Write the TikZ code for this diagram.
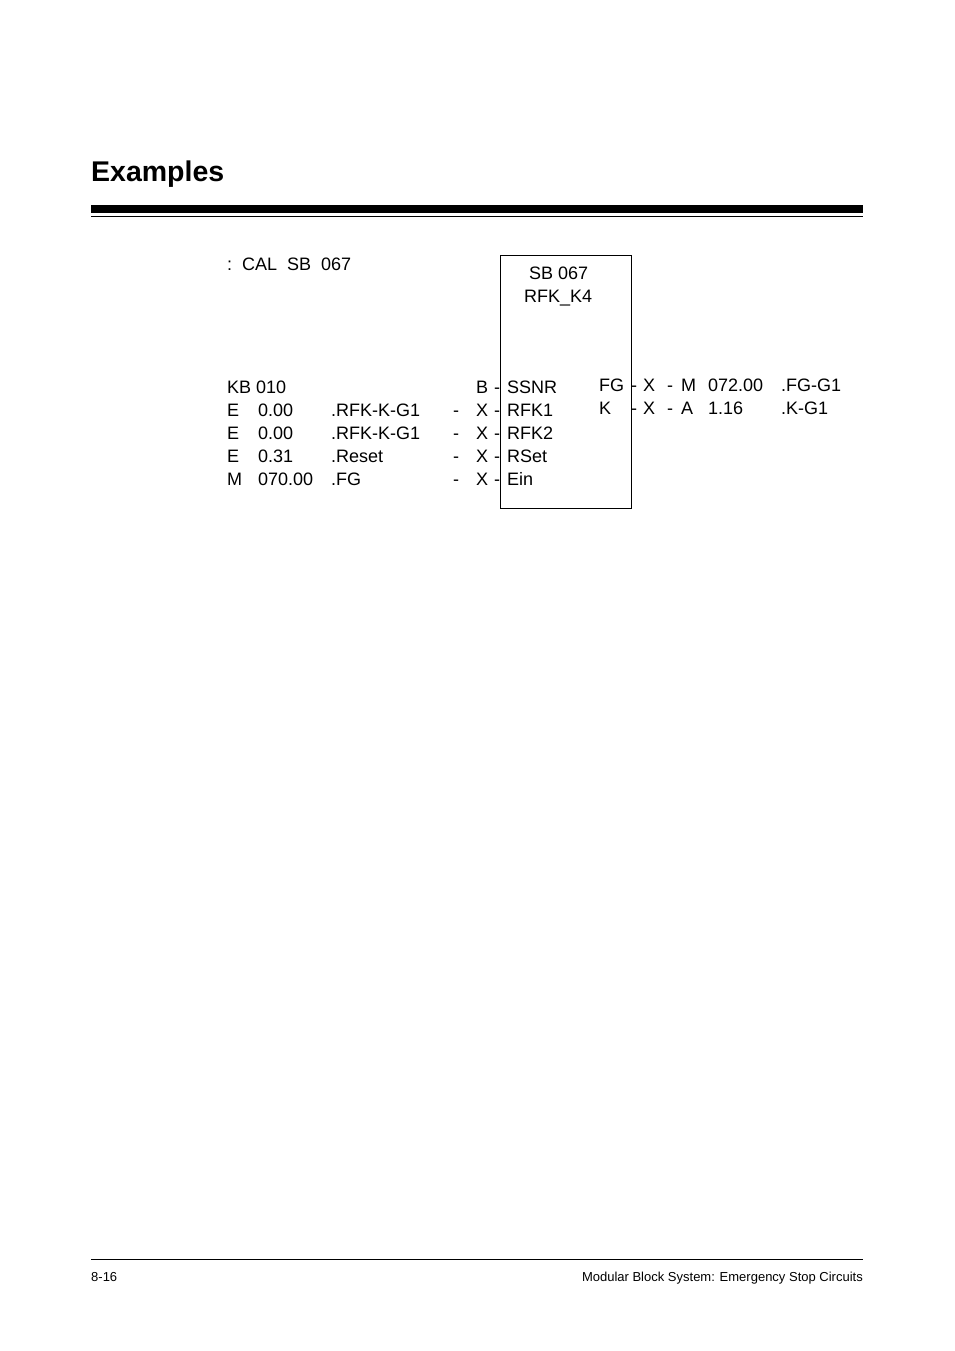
\documentclass[tikz,border=0pt]{standalone}
\usepackage{fontspec}
\setmainfont{Liberation Sans}
\begin{document}
\begin{tikzpicture}[x=1pt,y=-1pt,
  t/.style={anchor=base west,inner sep=0pt,font=\fontsize{18}{20}\selectfont}]
\useasboundingbox (0,0) rectangle (954,1351);
\node[anchor=base west,inner sep=0pt,font=\fontsize{28.5}{30}\selectfont\bfseries] (title) at (91,182) {Examples};
\fill (91,205) rectangle (863,213);
\draw[line width=0.8pt] (91,216.5) -- (863,216.5);
\node[t] (cal) at (227,270) {:\ \ CAL\ \ SB\ \ 067};
\node[draw,line width=0.8pt,minimum width=131,minimum height=253,anchor=north west,inner sep=0pt] (box) at (500,255) {};
\node[t] (h1) at (529,279) {SB 067};
\node[t] (h2) at (524,302) {RFK\_K4};
% left column
\foreach \y/\a/\b/\c/\d in {393/KB 010///B, 416/E/0.00/.RFK-K-G1/X, 439/E/0.00/.RFK-K-G1/X, 462/E/0.31/.Reset/X, 485/M/070.00/.FG/X}{
  \node[t] at (227,\y) {\a};
  \node[t] at (258,\y) {\b};
  \node[t] at (331,\y) {\c};
  \node[t] at (476,\y) {\d};
  \node[t] at (494,\y) {-};
}
\foreach \y in {416,439,462,485}{\node[t] at (453,\y) {-};}
\node[t] (i1) at (507,393) {SSNR};
\node[t] (i2) at (507,416) {RFK1};
\node[t] (i3) at (507,439) {RFK2};
\node[t] (i4) at (507,462) {RSet};
\node[t] (i5) at (507,485) {Ein};
% right
\node[t] (o1) at (599,391) {FG};
\node[t] (o2) at (599,414) {K};
\foreach \y/\a/\b/\c in {391/M/072.00/.FG-G1, 414/A/1.16/.K-G1}{
  \node[t] at (631,\y) {-};
  \node[t] at (643,\y) {X};
  \node[t] at (667,\y) {-};
  \node[t] at (681,\y) {\a};
  \node[t] at (708,\y) {\b};
  \node[t] at (781,\y) {\c};
}
\draw[line width=0.6pt] (91,1259) -- (863,1259);
\node[anchor=base west,inner sep=0pt,font=\fontsize{13}{15}\selectfont] (pg) at (91,1281) {8-16};
\node[anchor=base east,inner sep=0pt,font=\fontsize{13}{15}\selectfont] (ft) at (863,1281) {Modular Block System: Emergency Stop Circuits};
\end{tikzpicture}
\end{document}
